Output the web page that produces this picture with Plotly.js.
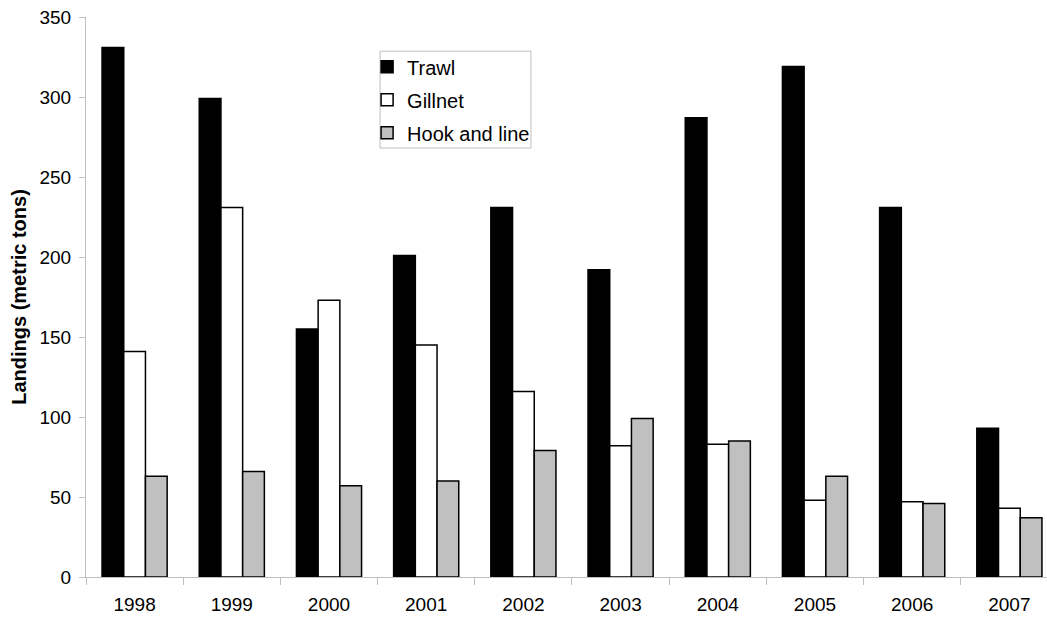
<!DOCTYPE html>
<html>
<head>
<meta charset="utf-8">
<script src="https://cdn.plot.ly/plotly-3.0.1.min.js"></script>
<style>html,body{margin:0;padding:0;background:#fff;}#chart{width:1047px;height:618px;}</style>
</head>
<body>
<div id="chart"></div>
<script>
const years = ['1998','1999','2000','2001','2002','2003','2004','2005','2006','2007'];
const trawl = [331, 299, 155, 201, 231, 192, 287, 319, 231, 93];
const gillnet = [141, 231, 173, 145, 116, 82, 83, 48, 47, 43];
const hookAndLine = [63, 66, 57, 60, 79, 99, 85, 63, 46, 37];
const seriesNames = ['Trawl', 'Gillnet', 'Hook and line'];

const fills = ['#000000', '#ffffff', '#c0c0c0'];
const seriesValues = [trawl, gillnet, hookAndLine];

const data = seriesValues.map((vals, i) => ({
  type: 'bar',
  x: years,
  y: vals,
  name: seriesNames[i],
  legendgroup: 'g' + i,
  marker: {color: fills[i], line: {color: '#000000', width: 1.5}},
  hoverinfo: 'x+y+name'
}));

const layout = {
  width: 1047,
  height: 618,
  margin: {l: 86, r: 0, t: 17, b: 41, pad: 0},
  paper_bgcolor: '#ffffff',
  plot_bgcolor: '#ffffff',
  font: {family: 'Liberation Sans, Arial, sans-serif', size: 19, color: '#000000'},
  barmode: 'group',
  bargap: 0.33,
  bargroupgap: 0,
  showlegend: true,
  legend: {
    x: 0.2925, y: 0.946, xanchor: 'left', yanchor: 'top',
    borderwidth: 0, bgcolor: 'rgba(0,0,0,0)',
    font: {size: 20}, tracegroupgap: 4, traceorder: 'grouped'
  },
  shapes: [{
    type: 'rect', xref: 'paper', yref: 'paper',
    x0: 0.306, x1: 0.463, y0: 0.766, y1: 0.939,
    line: {color: '#bfbfbf', width: 1}, fillcolor: 'rgba(0,0,0,0)', layer: 'below'
  }],
  xaxis: {
    type: 'category',
    range: [-0.5, 9.387],
    showline: true, linecolor: '#bfbfbf', linewidth: 1,
    ticks: 'outside', tickson: 'boundaries', ticklen: 7, tickcolor: '#bfbfbf',
    ticklabelstandoff: 10,
    showgrid: false, zeroline: false,
    tickfont: {size: 19}
  },
  yaxis: {
    range: [0, 350],
    dtick: 50,
    showline: true, linecolor: '#bfbfbf', linewidth: 1,
    ticks: 'outside', ticklen: 6, tickcolor: '#bfbfbf',
    ticklabelstandoff: 4,
    showgrid: false, zeroline: false,
    tickfont: {size: 19},
    title: {text: '<b>Landings (metric tons)</b>', font: {size: 20}, standoff: 7}
  }
};

Plotly.newPlot('chart', data, layout, {displayModeBar: false, staticPlot: true});
</script>
</body>
</html>
